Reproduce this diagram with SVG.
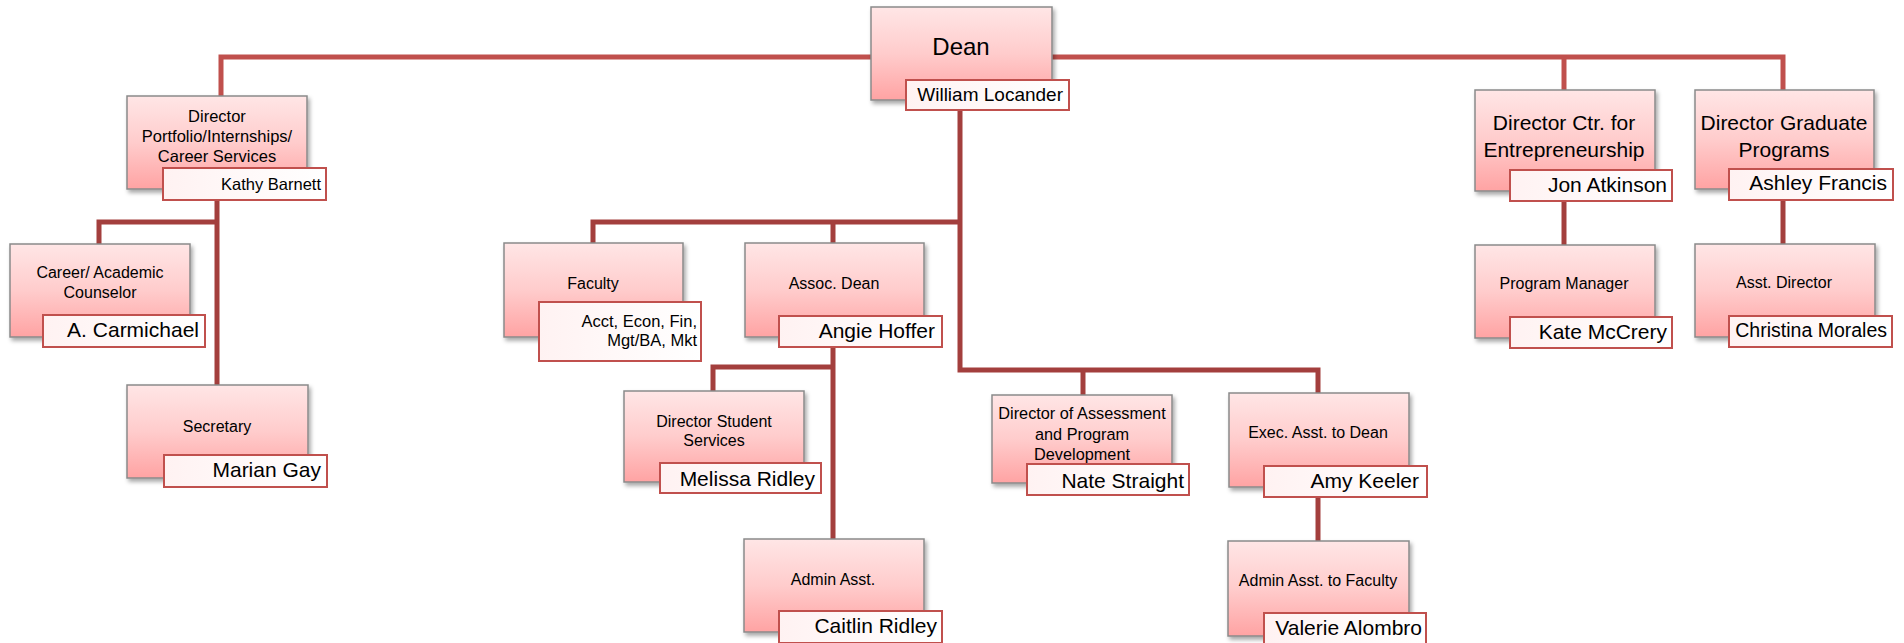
<svg xmlns="http://www.w3.org/2000/svg" width="1904" height="643" viewBox="0 0 1904 643">
<defs>
<linearGradient id="boxg" x1="0" y1="0" x2="0" y2="1">
<stop offset="0" stop-color="#FFE6E6"/>
<stop offset="0.5" stop-color="#FFCCCC"/>
<stop offset="1" stop-color="#FFA3A3"/>
</linearGradient>
<linearGradient id="nameg" x1="0" y1="0" x2="1" y2="0">
<stop offset="0" stop-color="#FFF2F2"/>
<stop offset="1" stop-color="#FFFFFF"/>
</linearGradient>
<filter id="sh" x="-10%" y="-10%" width="125%" height="130%">
<feDropShadow dx="2" dy="3" stdDeviation="2" flood-color="#000" flood-opacity="0.35"/>
</filter>
</defs>
<style>
.box{fill:url(#boxg);stroke:#8A8A8A;stroke-width:1.5;filter:url(#sh)}
.nm{fill:url(#nameg);stroke:#C0504D;stroke-width:2}
.t{font-family:"Liberation Sans",Arial,sans-serif;fill:#000;text-anchor:middle;font-size:16px}
.n{font-family:"Liberation Sans",Arial,sans-serif;fill:#000;text-anchor:end;font-size:21px}
.c1{fill:none;stroke:#C0504D;stroke-width:5}
.c2{fill:none;stroke:#A33F3D;stroke-width:5}
</style>
<rect width="1904" height="643" fill="#FFFFFF"/>
<g id="connectors">
<path class="c1" d="M221 97 V57 H871"/>
<path class="c1" d="M1052 57 H1783 V90"/>
<path class="c1" d="M1564 57 V90"/>
<path class="c2" d="M217 200 V385"/>
<path class="c2" d="M217 222 H99 V244"/>
<path class="c2" d="M960 110 V370 H1318 V393"/>
<path class="c2" d="M1083 370 V395"/>
<path class="c2" d="M960 222 H593 V243"/>
<path class="c2" d="M833 222 V243"/>
<path class="c2" d="M833 347 V539"/>
<path class="c2" d="M833 367 H713 V391"/>
<path class="c2" d="M1318 497 V541"/>
<path class="c2" d="M1564 201 V245"/>
<path class="c2" d="M1783 200 V244"/>
</g>
<g id="dean">
<rect class="box" x="871" y="7" width="181" height="93"/>
<text class="t" x="961" y="55" style="font-size:24px">Dean</text>
<rect class="nm" x="906" y="80" width="163" height="30"/>
<text class="n" x="1063" y="101" style="font-size:19px">William Locander</text>
</g>
<g id="dir-portfolio">
<rect class="box" x="127" y="96" width="180" height="93"/>
<text class="t" x="217" y="122" style="font-size:16.5px">Director</text>
<text class="t" x="217" y="142" style="font-size:16.5px">Portfolio/Internships/</text>
<text class="t" x="217" y="162" style="font-size:16.5px">Career Services</text>
<rect class="nm" x="163" y="168" width="163" height="32"/>
<text class="n" x="321" y="190" style="font-size:16.5px">Kathy Barnett</text>
</g>
<g id="counselor">
<rect class="box" x="10" y="244" width="180" height="93"/>
<text class="t" x="100" y="278">Career/ Academic</text>
<text class="t" x="100" y="298">Counselor</text>
<rect class="nm" x="43" y="315" width="162" height="32"/>
<text class="n" x="199" y="337">A. Carmichael</text>
</g>
<g id="secretary">
<rect class="box" x="127" y="385" width="181" height="93"/>
<text class="t" x="217" y="432">Secretary</text>
<rect class="nm" x="164" y="455" width="163" height="32"/>
<text class="n" x="321" y="477">Marian Gay</text>
</g>
<g id="faculty">
<rect class="box" x="504" y="243" width="179" height="94"/>
<text class="t" x="593" y="289">Faculty</text>
<rect class="nm" x="539" y="302" width="162" height="59"/>
<text class="n" x="697" y="327" style="font-size:16.5px">Acct, Econ, Fin,</text>
<text class="n" x="697" y="346" style="font-size:16.5px">Mgt/BA, Mkt</text>
</g>
<g id="assoc-dean">
<rect class="box" x="745" y="243" width="179" height="94"/>
<text class="t" x="834" y="289">Assoc. Dean</text>
<rect class="nm" x="779" y="316" width="163" height="31"/>
<text class="n" x="935" y="338">Angie Hoffer</text>
</g>
<g id="dir-student">
<rect class="box" x="624" y="391" width="180" height="91"/>
<text class="t" x="714" y="427">Director Student</text>
<text class="t" x="714" y="446">Services</text>
<rect class="nm" x="660" y="463" width="161" height="30"/>
<text class="n" x="815" y="486">Melissa Ridley</text>
</g>
<g id="dir-assessment">
<rect class="box" x="992" y="395" width="180" height="88"/>
<text class="t" x="1082" y="419" style="font-size:16.3px">Director of Assessment</text>
<text class="t" x="1082" y="440" style="font-size:16.3px">and Program</text>
<text class="t" x="1082" y="460" style="font-size:16.3px">Development</text>
<rect class="nm" x="1027" y="464" width="162" height="31"/>
<text class="n" x="1184" y="488">Nate Straight</text>
</g>
<g id="exec-asst">
<rect class="box" x="1229" y="393" width="180" height="94"/>
<text class="t" x="1318" y="438">Exec. Asst. to Dean</text>
<rect class="nm" x="1264" y="466" width="163" height="31"/>
<text class="n" x="1419" y="488">Amy Keeler</text>
</g>
<g id="admin-asst">
<rect class="box" x="744" y="539" width="180" height="93"/>
<text class="t" x="833" y="585">Admin Asst.</text>
<rect class="nm" x="779" y="611" width="163" height="32"/>
<text class="n" x="937" y="633">Caitlin Ridley</text>
</g>
<g id="admin-asst-faculty">
<rect class="box" x="1228" y="541" width="181" height="95"/>
<text class="t" x="1318" y="586">Admin Asst. to Faculty</text>
<rect class="nm" x="1264" y="613" width="162" height="32"/>
<text class="n" x="1422" y="635">Valerie Alombro</text>
</g>
<g id="dir-entrepreneurship">
<rect class="box" x="1475" y="90" width="180" height="101"/>
<text class="t" x="1564" y="130" style="font-size:21px">Director Ctr. for</text>
<text class="t" x="1564" y="157" style="font-size:21px">Entrepreneurship</text>
<rect class="nm" x="1510" y="170" width="162" height="31"/>
<text class="n" x="1667" y="192">Jon Atkinson</text>
</g>
<g id="dir-graduate">
<rect class="box" x="1695" y="90" width="179" height="99"/>
<text class="t" x="1784" y="130" style="font-size:21px">Director Graduate</text>
<text class="t" x="1784" y="157" style="font-size:21px">Programs</text>
<rect class="nm" x="1729" y="169" width="164" height="31"/>
<text class="n" x="1887" y="190">Ashley Francis</text>
</g>
<g id="program-manager">
<rect class="box" x="1475" y="245" width="180" height="93"/>
<text class="t" x="1564" y="289">Program Manager</text>
<rect class="nm" x="1510" y="317" width="162" height="31"/>
<text class="n" x="1667" y="339">Kate McCrery</text>
</g>
<g id="asst-director">
<rect class="box" x="1695" y="244" width="180" height="93"/>
<text class="t" x="1784" y="288">Asst. Director</text>
<rect class="nm" x="1729" y="316" width="163" height="31"/>
<text class="n" x="1887" y="337" style="font-size:19.5px">Christina Morales</text>
</g>
</svg>
